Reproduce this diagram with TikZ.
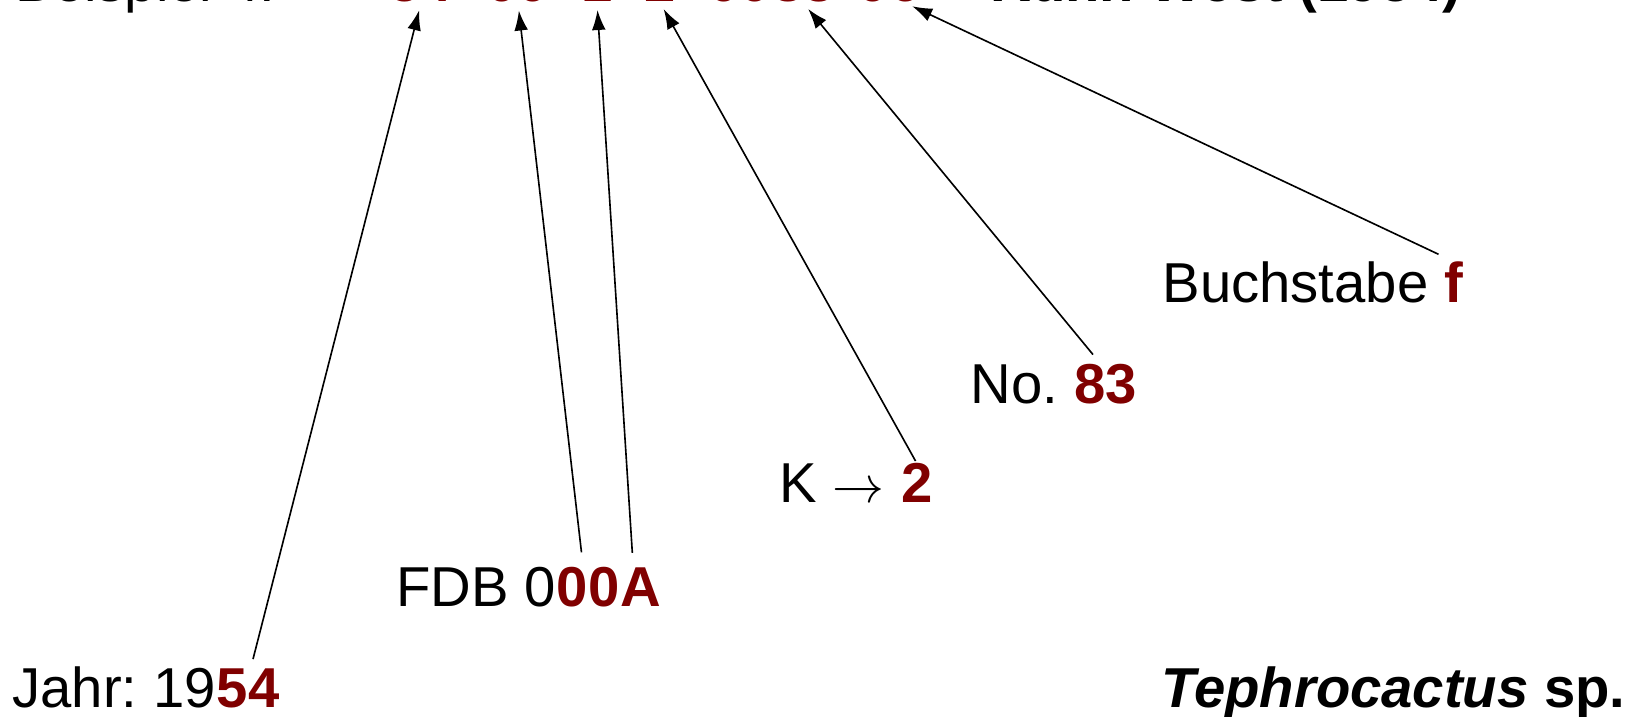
\documentclass[tikz,border=0pt]{standalone}
\usepackage{fontspec}
\setmainfont{Liberation Sans}
\usetikzlibrary{positioning,arrows.meta}
\definecolor{dunkelrot}{RGB}{128,0,0}

\begin{document}
\begin{tikzpicture}[x=0.4pt, y=-0.4pt,
    every node/.style={inner sep=0pt, font=\fontsize{22.5}{27}\selectfont\frenchspacing},
    code/.style={font=\fontsize{22.5}{27}\selectfont\bfseries, text=dunkelrot},
    pfeil/.style={-{Latex[length=8pt,width=5.5pt]}, line width=0.65pt, shorten >=3pt}]
  \useasboundingbox (0,0) rectangle (1634,717);
  \clip (0,0) rectangle (1634,717);

  % Kopfzeile
  \node [anchor=base west] (beispiel) at (15,2) {Beispiel 4:};
  \node [code, anchor=base] (c54) at (421,2) {54};
  \node [code, anchor=base] (c00) at (518,2) {00};
  \node [code, anchor=base] (c1) at (597,2) {1};
  \node [code, anchor=base] (c2) at (660,2) {2};
  \node [code, anchor=base west] (c0083) at (708,2) {00};
  \node [code, anchor=base west] (c83) at (c0083.base east) {83};
  \node [code, anchor=base west] (c0) at (857,2) {0};
  \node [code, anchor=base west] (c6) at (c0.base east) {6};
  \node [anchor=base west, font=\fontsize{22.5}{27}\selectfont\bfseries] (sammler) at (990,2) {Kuhn West (1954)};

  % Erklaerungen
  \node [anchor=base west] (jahr) at (12,708) {Jahr: 19};
  \node [code, anchor=base west] (j54) at (jahr.base east) {54};
  \node [anchor=base west] (fdb) at (396,607) {FDB 0};
  \node [code, anchor=base west] (f00) at (fdb.base east) {00};
  \node [code, anchor=base west] (fA) at (f00.base east) {A};
  \node [anchor=base west] (k) at (779,503) {K $\rightarrow$ \null};
  \node [code, anchor=base west] (k2) at (k.base east) {2};
  \node [anchor=base west] (nr) at (970,404) {No. \null};
  \node [code, anchor=base west] (n83) at (nr.base east) {83};
  \node [anchor=base west] (buchst) at (1162,303) {Buchstabe \null};
  \node [code, anchor=base west] (bf) at (buchst.base east) {f};
  \node [anchor=base east, font=\fontsize{22.5}{27}\selectfont\bfseries] (gattung) at (1626,708) {\textit{Tephrocactus} sp.};

  % Pfeile
  \draw [pfeil, shorten <=4pt] ([xshift=1pt]j54.north) -- (c54.south);
  \draw [pfeil, shorten <=6pt] ([xshift=-2pt]f00.north) -- (c00.south);
  \draw [pfeil, shorten <=6pt] ([xshift=-3pt]fA.north) -- (c1.south);
  \draw [pfeil, shorten <=1pt] (k2.north) -- (c2.south);
  \draw [pfeil, shorten <=5pt] ([xshift=-2pt]n83.north) -- (c83.south);
  \draw [pfeil, shorten <=7pt] (bf.north) -- (c6.south);
\end{tikzpicture}
\end{document}
